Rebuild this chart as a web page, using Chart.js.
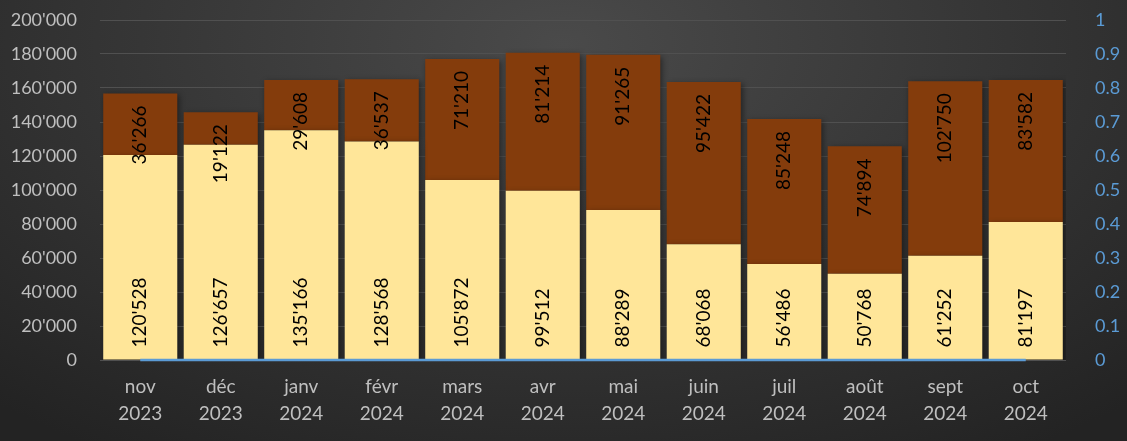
<!DOCTYPE html>
<html>
<head>
<meta charset="utf-8">
<script src="https://cdn.jsdelivr.net/npm/chart.js@4"></script>
<style>
  html, body { margin: 0; padding: 0; }
  body { width: 1127px; height: 441px; overflow: hidden;
    background: radial-gradient(ellipse 75% 110% at 50% 10%, #4a4a4a 0%, #363636 50%, #232323 100%); }
  canvas { display: block; }
</style>
</head>
<body>
<canvas id="chart" width="1127" height="441"></canvas>
<script>
let months = [
    ['nov', '2023'], ['déc', '2023'], ['janv', '2024'], ['févr', '2024'],
    ['mars', '2024'], ['avr', '2024'], ['mai', '2024'], ['juin', '2024'],
    ['juil', '2024'], ['août', '2024'], ['sept', '2024'], ['oct', '2024']
];

let baseValues = [120528, 126657, 135166, 128568, 105872, 99512, 88289, 68068, 56486, 50768, 61252, 81197];

let topValues = [36266, 19122, 29608, 36537, 71210, 81214, 91265, 95422, 85248, 74894, 102750, 83582];

let lineValues = [0, 0, 0, 0, 0, 0, 0, 0, 0, 0, 0, 0];

const fmt = v => String(Math.round(v)).replace(/\B(?=(\d{3})+(?!\d))/g, "'");

// rotated value labels: bottom segment at base, top segment at end
const barLabels = {
    id: 'barLabels',
    afterDatasetsDraw(chart) {
        const ctx = chart.ctx;
        ctx.save();
        ctx.font = '19px Lato';
        ctx.fillStyle = '#000';
        ctx.textBaseline = 'middle';
        [0, 1].forEach(di => {
            const meta = chart.getDatasetMeta(di);
            meta.data.forEach((bar, i) => {
                const val = chart.data.datasets[di].data[i];
                ctx.save();
                if (di === 0) {
                    ctx.translate(bar.x, bar.base - 12);
                    ctx.rotate(-Math.PI / 2);
                    ctx.textAlign = 'left';
                } else {
                    ctx.translate(bar.x, bar.y + 12);
                    ctx.rotate(-Math.PI / 2);
                    ctx.textAlign = 'right';
                }
                ctx.fillText(fmt(val), 0, 0);
                ctx.restore();
            });
        });
        // zero line of the secondary axis, on top of the bars
        const line = chart.getDatasetMeta(2);
        if (line.data.length) {
            ctx.strokeStyle = '#5B9BD5';
            ctx.lineWidth = 2.5;
            ctx.beginPath();
            line.data.forEach((p, i) => i ? ctx.lineTo(p.x, p.y) : ctx.moveTo(p.x, p.y));
            ctx.stroke();
        }
        ctx.restore();
    }
};

const barShadow = {
    id: 'barShadow',
    beforeDatasetDraw(chart, args) {
        if (args.meta.type !== 'bar') return;
        const ctx = chart.ctx;
        ctx.save();
        ctx.shadowColor = 'rgba(0,0,0,0.45)';
        ctx.shadowBlur = 6;
        ctx.shadowOffsetX = 2;
        ctx.shadowOffsetY = 2;
    },
    afterDatasetDraw(chart, args) {
        if (args.meta.type !== 'bar') return;
        chart.ctx.restore();
    }
};

const noPad = s => { s.paddingTop = 0; s.paddingBottom = 0; };

const chart = new Chart(document.getElementById('chart'), {
    data: {
        labels: months,
        datasets: [{
            type: 'bar',
            data: baseValues,
            backgroundColor: '#FFE699',
            yAxisID: 'y',
            stack: 's',
            barPercentage: 0.92,
            categoryPercentage: 1,
            order: 2
        }, {
            type: 'bar',
            data: topValues,
            backgroundColor: '#843C0C',
            yAxisID: 'y',
            stack: 's',
            barPercentage: 0.92,
            categoryPercentage: 1,
            order: 3
        }, {
            type: 'line',
            data: lineValues,
            borderColor: 'rgba(0,0,0,0)',
            borderWidth: 0,
            pointRadius: 0,
            yAxisID: 'y1',
            order: 0
        }]
    },
    options: {
        responsive: false,
        animation: false,
        layout: { padding: { top: 20, left: 0, right: 0, bottom: 0 } },
        plugins: {
            legend: { display: false },
            tooltip: { enabled: false }
        },
        scales: {
            x: {
                stacked: true,
                grid: { display: false },
                border: { display: false },
                ticks: {
                    color: '#bfbfbf',
                    font: { family: 'Lato', size: 19, lineHeight: 1.4 },
                    padding: 6,
                    maxRotation: 0
                },
                afterFit: s => { s.height = 81; s.paddingLeft = 0; s.paddingRight = 0; }
            },
            y: {
                stacked: true,
                position: 'left',
                min: 0,
                max: 200000,
                grid: { color: '#505050', lineWidth: 1, drawTicks: false },
                border: { display: false },
                ticks: {
                    stepSize: 20000,
                    color: '#bfbfbf',
                    font: { family: 'Lato', size: 18 },
                    padding: 23,
                    callback: v => fmt(v)
                },
                afterFit: s => { s.width = 100; noPad(s); }
            },
            y1: {
                position: 'right',
                min: 0,
                max: 1,
                grid: { display: false },
                border: { display: false },
                ticks: {
                    stepSize: 0.1,
                    color: '#5B9BD5',
                    font: { family: 'Lato', size: 18 },
                    padding: 21,
                    callback: v => String(Math.round(v * 10) / 10)
                },
                afterFit: s => { s.width = 61; noPad(s); }
            }
        }
    },
    plugins: [barShadow, barLabels]
});
</script>
</body>
</html>
